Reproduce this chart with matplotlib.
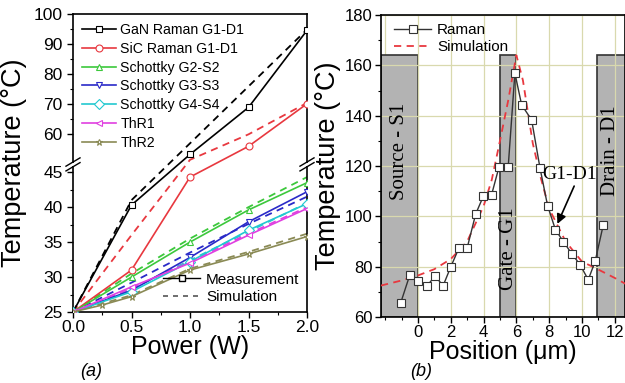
import numpy as np
import matplotlib
matplotlib.use("Agg")
import matplotlib.pyplot as plt
from matplotlib.ticker import FixedLocator, MultipleLocator, FormatStrFormatter
from matplotlib.patches import Rectangle

plt.rcParams['font.family'] = ['Liberation Sans', 'DejaVu Sans']

# ---- panel (a): temperature vs power ----
power = [0.0, 0.5, 1.0, 1.5, 2.0]
power_thr2 = [0.0, 0.25, 0.5, 1.0, 1.5, 2.0]

gan_meas = [25, 40.3, 53.3, 69.0, 94.7]
gan_sim = [25, 41.0, 57.0, 76.0, 95.0]
sic_meas = [25, 31.0, 44.3, 56.0, 70.2]
sic_sim = [25, 36.0, 51.5, 60.0, 70.5]
g2s2_meas = [25, 30.0, 35.0, 39.6, 43.5]
g2s2_sim = [25, 30.5, 35.5, 40.0, 44.3]
g3s3_meas = [25, 28.1, 32.8, 37.9, 42.2]
g3s3_sim = [25, 29.2, 33.5, 37.6, 41.5]
g4s4_meas = [25, 27.9, 32.2, 36.7, 40.5]
g4s4_sim = [25, 28.3, 32.4, 36.5, 40.6]
thr1_meas = [25, 28.6, 32.0, 36.0, 39.8]
thr1_sim = [25, 28.4, 32.2, 36.2, 40.0]
thr2_meas = [25, 26.0, 27.2, 31.0, 33.3, 35.8]
thr2_sim = [25, 27.4, 31.2, 33.6, 36.2]

# ---- panel (b): temperature vs position ----
pos_raman = [-1.05, -0.49, 0.02, 0.53, 1.04, 1.54, 2.0, 2.5, 3.0, 3.52, 3.98, 4.49,
             4.95, 5.5, 5.91, 6.32, 6.93, 7.44, 7.9, 8.38, 8.86, 9.37, 9.88, 10.38,
             10.8, 11.3]
temp_raman = [65.6, 76.8, 74.2, 72.2, 76.2, 72.5, 79.9, 87.4, 87.4, 100.9, 107.9, 108.6,
              119.8, 119.5, 156.9, 144.3, 138.3, 119.2, 104.3, 94.7, 90.0, 85.2, 80.8, 74.8,
              82.1, 96.7]
pos_sim = [-2.25, -1, 0, 1, 2, 3, 4, 4.5, 5, 5.5, 6, 6.4, 7, 7.5, 8, 9, 10, 10.8, 12, 12.7]
temp_sim = [72.5, 74.5, 76.5, 79, 83, 90, 104, 114.5, 130, 146, 164, 154, 129, 115, 103,
            90, 82, 79.5, 75.5, 73]

fig = plt.figure(figsize=(6.25, 3.83), dpi=100)

# broken y axis (25-46 and 50-100) via a piecewise scale
LO, HI = 46.1, 50.0
A = (LO - 25) * 7


def fwd(v):
    v = np.asarray(v, dtype=float)
    return np.where(v <= LO, (v - 25) * 7,
                    np.where(v >= HI, A + 0.2 + (v - HI) * 3, A + (v - LO) * 0.2 / (HI - LO)))


def inv(t):
    t = np.asarray(t, dtype=float)
    return np.where(t <= A, t / 7 + 25,
                    np.where(t >= A + 0.2, (t - A - 0.2) / 3 + HI, LO + (t - A) * (HI - LO) / 0.2))


ax = fig.add_axes([73 / 625, 1 - 312 / 383, (307 - 73) / 625, (312 - 14.5) / 383])
ax.set_yscale('function', functions=(fwd, inv))

series = [
    ("GaN Raman G1-D1", power, gan_meas, gan_sim, 'black', 's'),
    ("SiC Raman G1-D1", power, sic_meas, sic_sim, '#e8383f', 'o'),
    ("Schottky G2-S2", power, g2s2_meas, g2s2_sim, '#3cc83c', '^'),
    ("Schottky G3-S3", power, g3s3_meas, g3s3_sim, '#2a2ac8', 'v'),
    ("Schottky G4-S4", power, g4s4_meas, g4s4_sim, '#22c8d0', 'D'),
    ("ThR1", power, thr1_meas, thr1_sim, '#e040e0', '<'),
    ("ThR2", power_thr2, thr2_meas, thr2_sim, '#8a8a55', '*'),
]
handles = []
for name, px, meas, sim, col, mk in series:
    h, = ax.plot(px, meas, color=col, lw=1.2, marker=mk, ms=5, mfc='white', mec=col,
                 mew=0.8, label=name, zorder=3)
    ax.plot(power, sim, color=col, lw=1.3, ls=(0, (4, 3)), zorder=2)
    handles.append(h)

ax.set_xlim(0, 2.0)
ax.set_ylim(25, 100)
ax.xaxis.set_major_locator(MultipleLocator(0.5))
ax.xaxis.set_minor_locator(MultipleLocator(0.25))
ax.xaxis.set_major_formatter(FormatStrFormatter('%.1f'))
ax.yaxis.set_major_locator(FixedLocator([25, 30, 35, 40, 45, 60, 70, 80, 90, 100]))
ax.yaxis.set_minor_locator(FixedLocator([27.5, 32.5, 37.5, 42.5, 65, 75, 85, 95]))
ax.yaxis.set_major_formatter(FormatStrFormatter('%d'))
ax.tick_params(axis='both', which='major', labelsize=12.5, length=4, width=1)
ax.tick_params(axis='both', which='minor', length=2.5, width=0.8)
ax.tick_params(axis='x', pad=2)
for s in ax.spines.values():
    s.set_linewidth(1.2)
ax.set_xlabel("Power (W)", fontsize=18, labelpad=0)
ax.set_ylabel("Temperature (°C)", fontsize=19.5)
ax.yaxis.set_label_coords(-0.195, 0.5)

# break marks on both spines
yb = (fwd(LO) + 0.1) / fwd(100)
for xs in (0, 1):
    ax.add_patch(Rectangle((xs - 0.012, yb - 0.006), 0.024, 0.012, transform=ax.transAxes,
                           facecolor='white', edgecolor='none', clip_on=False, zorder=5))
    for d in (-0.008, 0.008):
        ax.plot([xs - 0.03, xs + 0.03], [yb + d - 0.014, yb + d + 0.014],
                transform=ax.transAxes, color='black', lw=1, clip_on=False, zorder=6)

leg1 = ax.legend(handles=handles, loc='upper left', frameon=False, fontsize=10.2,
                 handlelength=2.4, handletextpad=0.35, labelspacing=0.34,
                 borderaxespad=0.2, bbox_to_anchor=(0.0, 1.0))
ax.add_artist(leg1)
m_h, = ax.plot([], [], color='black', lw=1, marker='s', ms=5, mfc='white')
s_h, = ax.plot([], [], color='#555555', lw=1.2, ls=(0, (3, 3)))
ax.legend([m_h, s_h], ["Measurement", "Simulation"], loc='lower right', frameon=False,
          fontsize=11, handlelength=2.4, handletextpad=0.4, labelspacing=0.25,
          borderaxespad=0.1)
fig.text(80 / 625, 1 - 372 / 383, "(a)", fontsize=13, style='italic', va='center')

# ---- panel (b) ----
bx = fig.add_axes([381 / 625, 1 - 317 / 383, (625 - 381) / 625, (317 - 15) / 383])
x0, x1 = -2.25, 12.62
bx.set_xlim(x0, x1)
bx.set_ylim(60, 180)
bx.grid(True, which='major', color='#d9d9ae', lw=0.9, zorder=0)
bx.axvline(-2, color='#d9d9ae', lw=0.9, zorder=0)

box_top = 164
for xa, xb, lab, ty, tx in [(x0, 0, "Source - S1", 126, -1.1), (5, 6, "Gate - G1", 87, 5.5),
                            (10.9, x1 + 0.5, "Drain - D1", 126, 11.75)]:
    bx.add_patch(Rectangle((xa, 60), xb - xa, box_top - 60, facecolor='#b3b3b3',
                           edgecolor='#333333', lw=1.2, zorder=1))
    bx.text(tx, ty, lab, rotation=90, ha='center', va='center', fontsize=15,
            family=['Liberation Serif', 'DejaVu Serif'], zorder=2)

bx.plot(pos_sim, temp_sim, color='#e8383f', lw=1.3, ls=(0, (4, 3)), zorder=3,
        label="Simulation")
bx.plot(pos_raman, temp_raman, color='#333333', lw=1, marker='s', ms=5.5, mfc='white',
        mec='#333333', mew=0.8, zorder=4, label="Raman")
hs, ls_ = bx.get_legend_handles_labels()
bx.legend(hs[::-1], ls_[::-1], loc='upper left', frameon=False, fontsize=11,
          handlelength=2.4, handletextpad=0.4, labelspacing=0.2,
          borderaxespad=0.15, bbox_to_anchor=(0.02, 1.0))

bx.annotate("G1-D1", xy=(8.5, 97), xytext=(7.6, 116.5), fontsize=14,
            family=['Liberation Serif', 'DejaVu Serif'], va='center', zorder=6,
            arrowprops=dict(arrowstyle='-|>', color='black', lw=1.2,
                            mutation_scale=14, shrinkA=0, shrinkB=0,
                            relpos=(0.6, 0.0)))

bx.xaxis.set_major_locator(FixedLocator([0, 2, 4, 6, 8, 10, 12]))
bx.xaxis.set_minor_locator(FixedLocator([-2, -1, 1, 3, 5, 7, 9, 11]))
bx.yaxis.set_major_locator(MultipleLocator(20))
bx.yaxis.set_minor_locator(MultipleLocator(10))
bx.tick_params(axis='both', which='major', labelsize=12, length=4, width=1)
bx.tick_params(axis='both', which='minor', length=2.5, width=0.8)
bx.tick_params(axis='x', pad=2)
bx.tick_params(axis='y', pad=2)
for s in bx.spines.values():
    s.set_linewidth(1.2)
bx.set_xlabel("Position (μm)", fontsize=18, labelpad=0)
bx.set_ylabel("Temperature (°C)", fontsize=19.5)
bx.yaxis.set_label_coords(-0.165, 0.5)
fig.text(410 / 625, 1 - 372 / 383, "(b)", fontsize=13, style='italic', va='center')

fig.savefig("out.png", dpi=100)
